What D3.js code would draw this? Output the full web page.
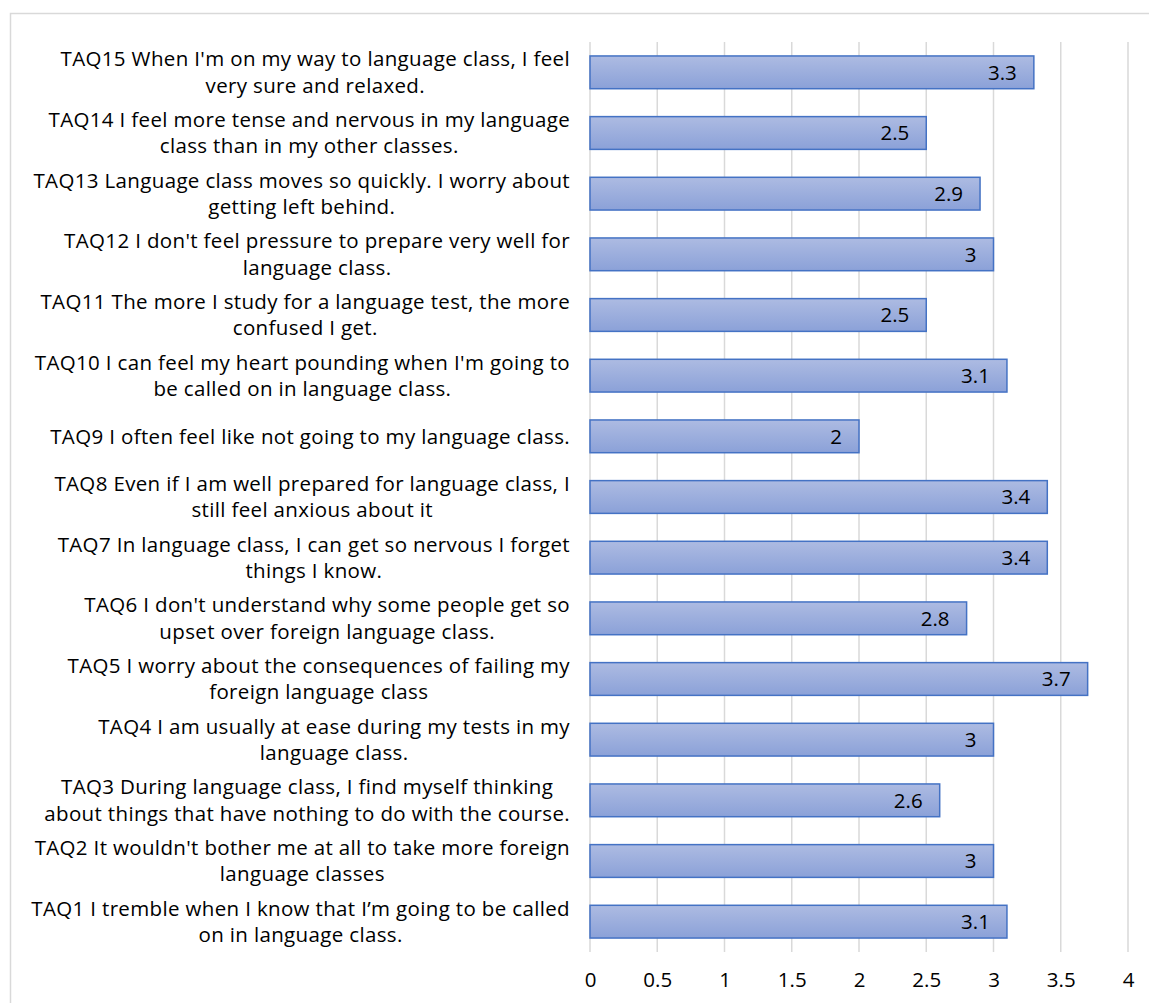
<!DOCTYPE html>
<html>
<head>
<meta charset="utf-8">
<script src="https://cdn.jsdelivr.net/npm/d3@7"></script>
<style>
  html, body { margin: 0; padding: 0; background: #fff; }
  svg { display: block; }
</style>
</head>
<body>
<svg id="chart" width="1149" height="1003"></svg>
<script>
// Survey items (top to bottom), with line breaks as wrapped in the axis
const categories = [
  "TAQ15 When I'm on my way to language class, I feel\nvery sure and relaxed.",
  "TAQ14 I feel more tense and nervous in my language\nclass than in my other classes.",
  "TAQ13 Language class moves so quickly. I worry about\ngetting left behind.",
  "TAQ12 I don't feel pressure to prepare very well for\nlanguage class.",
  "TAQ11 The more I study for a language test, the more\nconfused I get.",
  "TAQ10 I can feel my heart pounding when I'm going to\nbe called on in language class.",
  "TAQ9 I often feel like not going to my language class.",
  "TAQ8 Even if I am well prepared for language class, I\nstill feel anxious about it",
  "TAQ7 In language class, I can get so nervous I forget\nthings I know.",
  "TAQ6 I don't understand why some people get so\nupset over foreign language class.",
  "TAQ5 I worry about the consequences of failing my\nforeign language class",
  "TAQ4 I am usually at ease during my tests in my\nlanguage class.",
  "TAQ3 During language class, I find myself thinking\nabout things that have nothing to do with the course.",
  "TAQ2 It wouldn't bother me at all to take more foreign\nlanguage classes",
  "TAQ1 I tremble when I know that I\u2019m going to be called\non in language class."
];
const values = [3.3, 2.5, 2.9, 3, 2.5, 3.1, 2, 3.4, 3.4, 2.8, 3.7, 3, 2.6, 3, 3.1];
const xTicks = [0, 0.5, 1, 1.5, 2, 2.5, 3, 3.5, 4];

const svg = d3.select("#chart");
const font = "'Open Sans', 'Noto Sans', sans-serif";
const fs = 20.5;
const ls = 0.35;

// outer chart frame
svg.append("rect")
  .attr("x", 10.5).attr("y", 13.5)
  .attr("width", 1160).attr("height", 1010)
  .attr("fill", "#fff").attr("stroke", "#d9d9d9").attr("stroke-width", 1.5);

const plot = { left: 590, right: 1128, top: 42, bottom: 952 };

const x = d3.scaleLinear().domain([0, 4]).range([plot.left, plot.right]);
const y = d3.scaleBand().domain(d3.range(categories.length))
  .range([plot.top, plot.bottom]).paddingInner(0.46).paddingOuter(0.23);

// gradient fill for bars
const defs = svg.append("defs");
const grad = defs.append("linearGradient").attr("id", "barGrad")
  .attr("x1", 0).attr("y1", 0).attr("x2", 0).attr("y2", 1);
grad.append("stop").attr("offset", "0%").attr("stop-color", "#adbbe2");
grad.append("stop").attr("offset", "100%").attr("stop-color", "#8ba1d8");

// vertical gridlines
svg.append("g")
  .selectAll("line").data(xTicks).join("line")
  .attr("x1", d => x(d)).attr("x2", d => x(d))
  .attr("y1", plot.top).attr("y2", plot.bottom)
  .attr("stroke", "#d9d9d9").attr("stroke-width", 1.5);

// x axis tick labels
const xAxis = d3.axisBottom(x).tickValues(xTicks).tickSize(0).tickPadding(0)
  .tickFormat(d => String(d));
svg.append("g")
  .attr("transform", `translate(0, ${plot.bottom + 28})`)
  .call(xAxis)
  .call(g => g.select(".domain").remove())
  .call(g => g.selectAll("text")
    .attr("font-family", font).attr("font-size", fs).attr("fill", "#000")
    .attr("dy", "0.35em"));

// bars
svg.append("g")
  .selectAll("rect").data(values).join("rect")
  .attr("x", x(0))
  .attr("y", (d, i) => y(i))
  .attr("width", d => x(d) - x(0))
  .attr("height", y.bandwidth())
  .attr("fill", "url(#barGrad)")
  .attr("stroke", "#4472c4").attr("stroke-width", 1.5);

// value labels, inside end
svg.append("g")
  .selectAll("text").data(values).join("text")
  .attr("x", d => x(d) - 17)
  .attr("y", (d, i) => y(i) + y.bandwidth() / 2)
  .attr("dy", "0.35em")
  .attr("text-anchor", "end")
  .attr("font-family", font).attr("font-size", fs).attr("fill", "#000")
  .text(d => String(d));

// category labels: centred lines, block aligned to the axis
const labelRight = 570;
const lineH = 26.5;
const catG = svg.append("g");
categories.forEach((c, i) => {
  const lines = c.split("\n");
  const cy = y(i) + y.bandwidth() / 2;
  const g = catG.append("g");
  const texts = lines.map((ln, k) => g.append("text")
    .attr("y", cy + (k - (lines.length - 1) / 2) * lineH)
    .attr("dy", "0.35em")
    .attr("text-anchor", "middle")
    .attr("letter-spacing", ls)
    .attr("font-family", font).attr("font-size", fs).attr("fill", "#000")
    .text(ln));
  const w = d3.max(texts, t => t.node().getComputedTextLength());
  texts.forEach(t => t.attr("x", labelRight - w / 2));
});
</script>
</body>
</html>
